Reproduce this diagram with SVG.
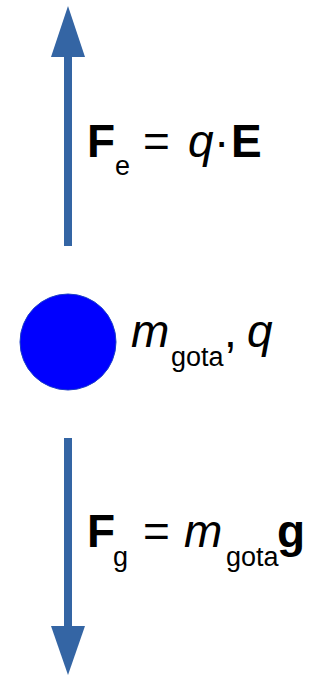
<svg xmlns="http://www.w3.org/2000/svg" width="327" height="676" viewBox="0 0 327 676">
<style>
.arr{fill:#3465a4}
.t{font-family:"Liberation Sans",Arial,sans-serif;fill:#000}
.b{font-weight:bold;font-size:46px}
.i{font-style:italic;font-size:46px}
.n{font-size:46px}
.s{font-size:27px}
</style>
<g id="connectors">
<g id="force-up">
<rect class="arr" x="64" y="55" width="8" height="191"/>
<polygon class="arr" points="68,6 85,57 51,57"/>
</g>
<g id="force-down">
<rect class="arr" x="64" y="438" width="8" height="190"/>
<polygon class="arr" points="51,626 85,626 68,675"/>
</g>
</g>
<g id="drop">
<circle cx="68" cy="342" r="48" fill="#0000ff" stroke="#1a3ec8" stroke-width="1"/>
</g>
<g id="label-fe">
<text class="t b" x="87" y="157">F</text>
<text class="t s" x="115" y="175">e</text>
<text class="t n" x="143" y="157">=</text>
<text class="t n" y="157"><tspan class="i" x="188">q</tspan><tspan x="214">·</tspan></text>
<text class="t b" x="231" y="157">E</text>
</g>
<g id="label-drop">
<text class="t i" x="131" y="347">m</text>
<text class="t s" x="171" y="366">gota</text>
<text class="t n" x="224" y="347">,</text>
<text class="t i" x="247" y="347">q</text>
</g>
<g id="label-fg">
<text class="t b" x="87" y="547">F</text>
<text class="t s" x="113" y="566">g</text>
<text class="t n" x="143" y="547">=</text>
<text class="t i" x="184" y="547">m</text>
<text class="t s" x="226" y="566">gota</text>
<text class="t b" x="277" y="547">g</text>
</g>
</svg>
